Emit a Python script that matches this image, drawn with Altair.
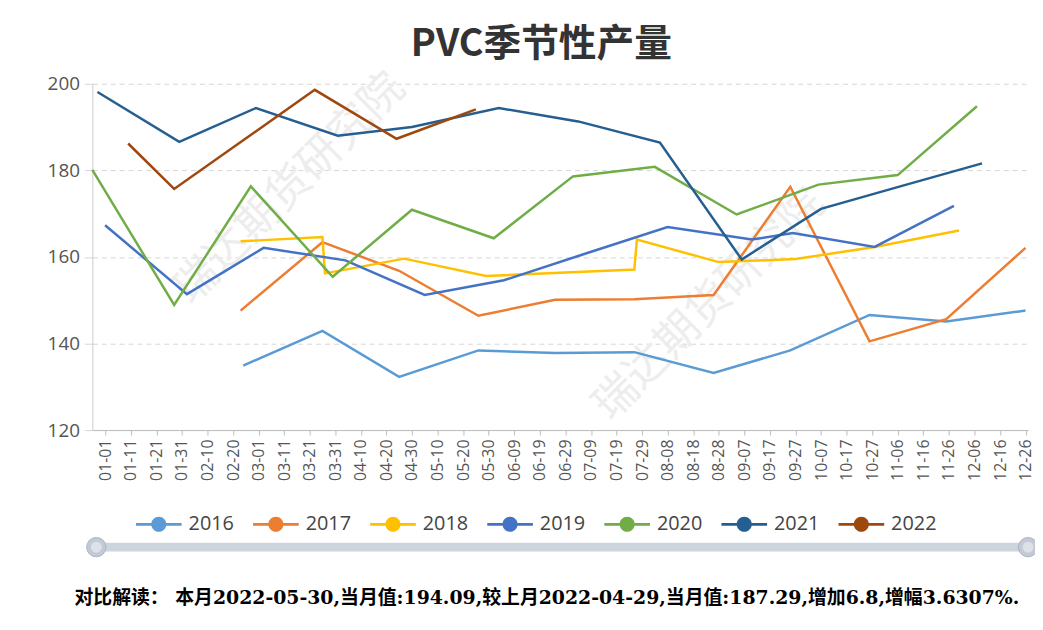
import altair as alt
import pandas as pd

years = ["2016", "2017", "2018", "2019", "2020", "2021", "2022"]
colors = ["#5B9BD5", "#ED7D31", "#FFC000", "#4472C4", "#70AD47", "#255E91", "#9E480E"]

dates_2016 = ["02-29", "03-31", "04-30", "05-31", "06-30", "07-31", "08-31", "09-30", "10-31", "11-30", "12-31"]
vals_2016 = [134.9, 142.9, 132.3, 138.4, 137.8, 138.0, 133.2, 138.4, 146.6, 145.1, 147.6]
dates_2017 = ["02-28", "03-31", "04-30", "05-31", "06-30", "07-31", "08-31", "09-30", "10-31", "11-30", "12-31"]
vals_2017 = [147.6, 163.4, 156.8, 146.4, 150.1, 150.2, 151.2, 176.2, 140.5, 145.6, 162.1]
dates_2018 = ["02-28", "03-31", "04-01", "05-02", "06-03", "07-31", "08-01", "09-02", "10-02", "11-02", "12-05"]
vals_2018 = [163.6, 164.6, 156.2, 159.6, 155.6, 157.1, 164.0, 158.8, 159.5, 162.3, 166.1]
dates_2019 = ["01-06", "02-07", "03-08", "04-09", "05-10", "06-10", "07-12", "08-13", "09-15", "10-01", "11-02", "12-03"]
vals_2019 = [167.3, 151.4, 162.1, 159.2, 151.2, 154.6, 160.8, 166.9, 164.0, 165.5, 162.3, 171.8]
dates_2020 = ["01-01", "02-02", "03-03", "04-04", "05-05", "06-06", "07-07", "08-08", "09-09", "10-11", "11-11", "12-12"]
vals_2020 = [180.1, 148.9, 176.3, 155.4, 170.9, 164.3, 178.6, 180.8, 169.8, 176.7, 178.9, 194.8]
dates_2021 = ["01-03", "02-04", "03-05", "04-06", "05-05", "06-08", "07-09", "08-10", "09-11", "10-12", "11-12", "12-14"]
vals_2021 = [198.1, 186.6, 194.4, 188.0, 190.0, 194.4, 191.3, 186.4, 159.4, 171.1, 176.3, 181.6]
dates_2022 = ["01-15", "02-02", "03-28", "04-29", "05-30"]
vals_2022 = [186.2, 175.7, 198.6, 187.29, 194.09]

tick_labels = ["01-01", "01-11", "01-21", "01-31", "02-10", "02-20", "03-01", "03-11", "03-21",
               "03-31", "04-10", "04-20", "04-30", "05-10", "05-20", "05-30", "06-09", "06-19",
               "06-29", "07-09", "07-19", "07-29", "08-08", "08-18", "08-28", "09-07", "09-17",
               "09-27", "10-07", "10-17", "10-27", "11-06", "11-16", "11-26", "12-06", "12-16", "12-26"]
y_ticks = [120, 140, 160, 180, 200]

title_text = "PVC季节性产量"
footer_text = "对比解读：  本月2022-05-30,当月值:194.09,较上月2022-04-29,当月值:187.29,增加6.8,增幅3.6307%."
watermark_text = "瑞达期货研究院"

series = {
    "2016": (dates_2016, vals_2016),
    "2017": (dates_2017, vals_2017),
    "2018": (dates_2018, vals_2018),
    "2019": (dates_2019, vals_2019),
    "2020": (dates_2020, vals_2020),
    "2021": (dates_2021, vals_2021),
    "2022": (dates_2022, vals_2022),
}
rows = []
for yr, (ds, vs) in series.items():
    for d, v in zip(ds, vs):
        rows.append({"year": yr, "date": "2016/" + d.replace("-", "/"), "value": v})
df = pd.DataFrame(rows)


def dt(label, year=2016):
    m, d = label.split("-")
    return alt.DateTime(year=year, month=int(m), date=int(d))


W, H = 943, 349
FONT = "Noto Sans CJK SC"
SANS = "Open Sans"

x_scale = alt.Scale(domain=[dt("01-01"), dt("01-01", 2017)])
y_scale = alt.Scale(domain=[120, 200])
c_scale = alt.Scale(domain=years, range=colors)

x_axis = alt.Axis(values=[dt(t) for t in tick_labels], format="%m-%d", labelAngle=270,
                  labelFontSize=16, labelFont=SANS, labelColor="#555", labelOverlap=False,
                  tickColor="#bbb", domainColor="#bbb", tickSize=5, tickOffset=13,
                  labelPadding=4, grid=False, title=None)
y_axis = alt.Axis(values=y_ticks, labelFontSize=19, labelFont=SANS, labelColor="#555",
                  grid=True, gridDash=[5, 4], gridColor="#d6d6d6", domainColor="#ccc",
                  tickColor="#d6d6d6", tickSize=8, labelPadding=5, title=None)

lines = alt.Chart(df).mark_line(strokeWidth=2.5).encode(
    x=alt.X("date:T", scale=x_scale, axis=x_axis),
    y=alt.Y("value:Q", scale=y_scale, axis=y_axis),
    color=alt.Color("year:N", scale=c_scale, legend=None),
)

icon = ("M-1,-0.06L1,-0.06L1,0.06L-1,0.06Z "
        "M-0.33,0A0.33,0.33 0 1,1 0.33,0A0.33,0.33 0 1,1 -0.33,0Z")
legend_pts = alt.Chart(df).mark_point(filled=True, size=0, opacity=1).encode(
    x=alt.X("date:T", scale=x_scale, axis=x_axis),
    y=alt.Y("value:Q", scale=y_scale, axis=y_axis),
    color=alt.Color("year:N", scale=c_scale, legend=alt.Legend(
        orient="none", legendX=44, legendY=421, direction="horizontal", columns=7,
        title=None, symbolType=icon, symbolSize=2116, symbolStrokeWidth=0,
        symbolOpacity=1, labelFontSize=20, labelFont=SANS, labelColor="#444",
        labelOffset=7, columnPadding=19, padding=0)),
)

one = pd.DataFrame({"t": [watermark_text]})
wm1 = alt.Chart(one).mark_text(fontSize=44, angle=315, color="#ededed", font=FONT).encode(
    text="t:N", x=alt.value(199), y=alt.value(106))
wm2 = alt.Chart(one).mark_text(fontSize=44, angle=315, color="#ededed", font=FONT).encode(
    text="t:N", x=alt.value(622), y=alt.value(223))

slider = alt.Chart(one).mark_rule(strokeWidth=9, color="#cdd4de", strokeCap="round").encode(
    x=alt.value(4), x2=alt.value(943), y=alt.value(467))
h1 = alt.Chart(one).mark_circle(size=380, color="#c3cad5", stroke="#a9b2bf", strokeWidth=1, opacity=1).encode(
    x=alt.value(4), y=alt.value(467))
h2 = alt.Chart(one).mark_circle(size=380, color="#c3cad5", stroke="#a9b2bf", strokeWidth=1, opacity=1).encode(
    x=alt.value(943), y=alt.value(467))
h1i = alt.Chart(one).mark_circle(size=120, color="#dde2e9", opacity=1).encode(x=alt.value(4), y=alt.value(467))
h2i = alt.Chart(one).mark_circle(size=120, color="#dde2e9", opacity=1).encode(x=alt.value(943), y=alt.value(467))

foot = alt.Chart(pd.DataFrame({"t": [footer_text]})).mark_text(
    align="left", baseline="middle", fontSize=19, fontWeight="bold",
    font="DejaVu Serif, Noto Sans CJK SC", color="#000").encode(
    text="t:N", x=alt.value(-18), y=alt.value(518))

chart = alt.layer(wm1, wm2, lines, legend_pts, slider, h1, h2, h1i, h2i, foot).properties(
    width=W, height=H,
    title=alt.TitleParams(title_text, fontSize=38, fontWeight="bold", font=FONT, color="#333",
                          anchor="middle", dx=-19, offset=2),
    autosize=alt.AutoSizeParams(type="none"),
    padding={"left": 85, "top": 74, "right": 7, "bottom": 180},
).resolve_legend(color="independent").configure_view(stroke=None)

chart.save("out.html", embed_options={"renderer": "svg", "actions": False})
